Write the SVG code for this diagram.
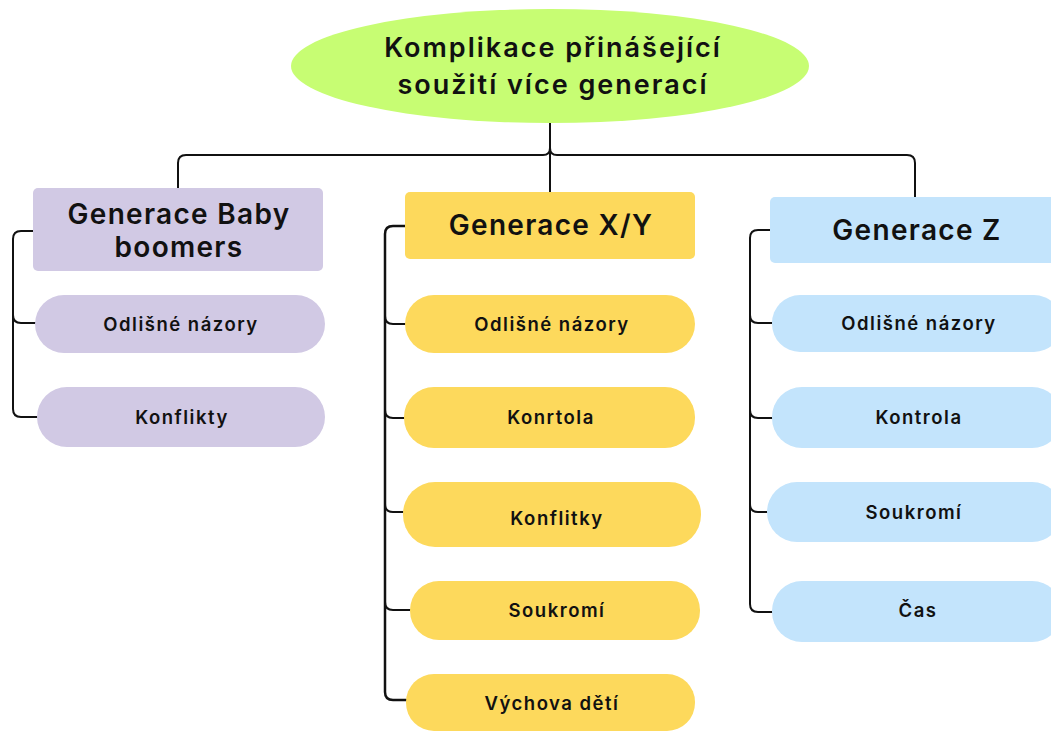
<svg xmlns="http://www.w3.org/2000/svg" width="1051" height="731" viewBox="0 0 1051 731">
<style>
text{font-family:Inter,"Noto Sans","DejaVu Sans",sans-serif;fill:#111;text-anchor:middle}
.t1{font-size:27px;font-weight:600;letter-spacing:2px}
.h{font-size:28px;font-weight:600;letter-spacing:1.3px}
.p{font-size:18.5px;font-weight:600;letter-spacing:1.5px}
.c{fill:none;stroke:#111;stroke-width:2;stroke-linecap:round;stroke-linejoin:round}
.purple{fill:#d1c9e4}
.yellow{fill:#fdd95c}
.blue{fill:#c3e4fc}
</style>
<rect width="1051" height="731" fill="#fff"/>
<g id="connectors">
<path class="c" d="M550 123 V148 Q550 155 543 155 H186 Q178 155 178 163 V188"/>
<path class="c" d="M550 148 Q550 155 557 155 H907 Q915 155 915 163 V197"/>
<path class="c" d="M550 148 V192"/>
<path class="c" d="M33 231 H21 Q13 231 13 239 V409 Q13 417 21 417 H37"/>
<path class="c" d="M13 315 Q13 323 21 323 H35"/>
<path class="c" style="stroke-width:2.5" d="M405 226 H393 Q385 226 385 234 V692 Q385 700 393 700 H406"/>
<path class="c" d="M385 316 Q385 324 393 324 H405"/>
<path class="c" d="M385 410 Q385 418 393 418 H404"/>
<path class="c" d="M385 504 Q385 512 393 512 H403"/>
<path class="c" d="M385 602 Q385 610 393 610 H410"/>
<path class="c" d="M770 230 H758 Q750 230 750 238 V604 Q750 612 758 612 H772"/>
<path class="c" d="M750 315 Q750 323 758 323 H772"/>
<path class="c" d="M750 410 Q750 418 758 418 H772"/>
<path class="c" d="M750 504 Q750 512 758 512 H767"/>
</g>
<g id="root">
<ellipse cx="550" cy="66" rx="259" ry="57" fill="#c7fd73"/>
<text class="t1" x="553" y="57">Komplikace přinášející</text>
<text class="t1" x="553" y="94">soužití více generací</text>
</g>
<g id="baby">
<rect class="purple" x="33" y="188" width="290" height="83" rx="5"/>
<text class="h" x="179" y="224">Generace Baby</text>
<text class="h" x="179" y="257">boomers</text>
</g>
<g id="baby-1"><rect class="purple" x="35" y="295" width="290" height="58" rx="29"/><text class="p" x="181" y="331">Odlišné názory</text></g>
<g id="baby-2"><rect class="purple" x="37" y="387" width="288" height="60" rx="30"/><text class="p" x="182" y="424">Konflikty</text></g>
<g id="genxy">
<rect class="yellow" x="405" y="192" width="290" height="67" rx="5"/>
<text class="h" x="551" y="235">Generace X/Y</text>
</g>
<g id="xy-1"><rect class="yellow" x="405" y="295" width="290" height="58" rx="29"/><text class="p" x="552" y="331">Odlišné názory</text></g>
<g id="xy-2"><rect class="yellow" x="404" y="387" width="291" height="61" rx="30"/><text class="p" x="551" y="424">Konrtola</text></g>
<g id="xy-3"><rect class="yellow" x="403" y="482" width="298" height="65" rx="32"/><text class="p" x="557" y="525">Konflitky</text></g>
<g id="xy-4"><rect class="yellow" x="410" y="581" width="290" height="59" rx="29"/><text class="p" x="557" y="617">Soukromí</text></g>
<g id="xy-5"><rect class="yellow" x="406" y="674" width="289" height="57" rx="28"/><text class="p" x="552" y="710">Výchova dětí</text></g>
<g id="genz">
<rect class="blue" x="770" y="197" width="290" height="66" rx="5"/>
<text class="h" x="917" y="240">Generace Z</text>
</g>
<g id="z-1"><rect class="blue" x="772" y="295" width="290" height="57" rx="28"/><text class="p" x="919" y="330">Odlišné názory</text></g>
<g id="z-2"><rect class="blue" x="772" y="387" width="290" height="61" rx="30"/><text class="p" x="919" y="424">Kontrola</text></g>
<g id="z-3"><rect class="blue" x="767" y="482" width="295" height="60" rx="30"/><text class="p" x="914" y="519">Soukromí</text></g>
<g id="z-4"><rect class="blue" x="772" y="581" width="290" height="61" rx="30"/><text class="p" x="918" y="617">Čas</text></g>
</svg>
